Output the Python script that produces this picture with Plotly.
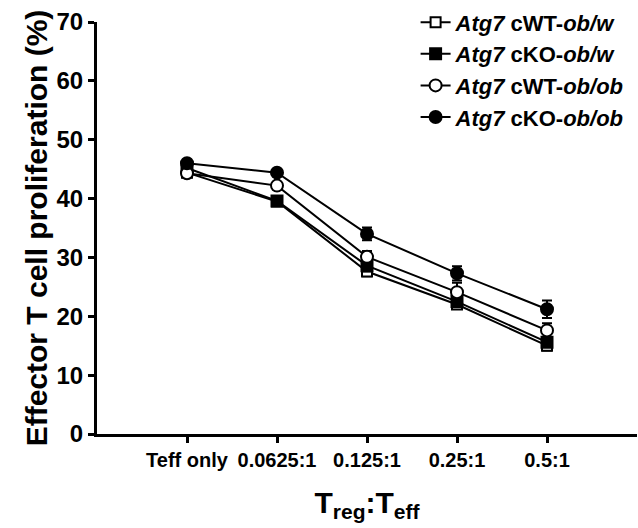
import plotly.graph_objects as go

categories = ["Teff only", "0.0625:1", "0.125:1", "0.25:1", "0.5:1"]
x_pos = [1, 2, 3, 4, 5]
y_ticks = [0, 10, 20, 30, 40, 50, 60, 70]

series_names = [
    "<i>Atg7</i> cWT-<i>ob/w</i>",
    "<i>Atg7</i> cKO-<i>ob/w</i>",
    "<i>Atg7</i> cWT-<i>ob/ob</i>",
    "<i>Atg7</i> cKO-<i>ob/ob</i>",
]
cwt_obw = [44.4, 39.5, 27.6, 22.0, 15.0]
cwt_obw_err = [0.5, 0.6, 0.8, 0.7, 0.8]
cko_obw = [45.2, 39.6, 28.6, 22.5, 15.6]
cko_obw_err = [0.5, 0.6, 1.0, 0.8, 0.8]
cwt_obob = [44.3, 42.2, 30.1, 24.1, 17.6]
cwt_obob_err = [0.5, 0.6, 1.0, 1.6, 1.2]
cko_obob = [46.0, 44.4, 34.0, 27.3, 21.2]
cko_obob_err = [0.5, 0.6, 1.1, 1.2, 1.5]

values = [cwt_obw, cko_obw, cwt_obob, cko_obob]
errors = [cwt_obw_err, cko_obw_err, cwt_obob_err, cko_obob_err]
symbols = ["square", "square", "circle", "circle"]
fills = ["white", "black", "white", "black"]
sizes = [10, 11, 12, 12]

tick_text = ["<b>" + c + "</b>" for c in categories]

fig = go.Figure()
for i in range(4):
    fig.add_trace(go.Scatter(
        x=x_pos, y=values[i], name="<b>" + series_names[i] + "</b>",
        legendgroup="g%d" % i,
        mode="lines+markers",
        line=dict(color="black", width=2),
        marker=dict(symbol=symbols[i], size=sizes[i], color=fills[i],
                    line=dict(color="black", width=2)),
        error_y=dict(type="data", array=errors[i], color="black", thickness=2, width=5),
    ))

fig.update_layout(
    width=638, height=528,
    margin=dict(l=97, r=1, t=22, b=94, autoexpand=False),
    paper_bgcolor="white", plot_bgcolor="white",
    font=dict(family="Liberation Sans, Arial, sans-serif", color="black"),
    showlegend=True,
    legend=dict(x=0.59, y=1.05, xanchor="left", yanchor="top",
                font=dict(size=22),
                tracegroupgap=0, itemwidth=30, bgcolor="rgba(0,0,0,0)"),
    xaxis=dict(range=[0, 6], tickvals=x_pos, ticktext=tick_text,
               tickangle=0, automargin=False,
               showline=True, linecolor="black", linewidth=3,
               ticks="outside", ticklen=6, tickwidth=3, tickcolor="black",
               showgrid=False, zeroline=False,
               tickfont=dict(size=20),
               title=dict(text="<b>T<sub>reg</sub>:T<sub>eff</sub></b>",
                          font=dict(size=30), standoff=22)),
    yaxis=dict(range=[0, 70], tickvals=y_ticks,
               ticktext=["<b>%d</b>" % v for v in y_ticks],
               automargin=False,
               showline=True, linecolor="black", linewidth=3,
               ticks="outside", ticklen=6, tickwidth=3, tickcolor="black",
               showgrid=False, zeroline=False,
               tickfont=dict(size=24),
               title=dict(text="<b>Effector T cell proliferation (%)</b>",
                          font=dict(size=30), standoff=0)),
)

fig.write_html("out.html")
